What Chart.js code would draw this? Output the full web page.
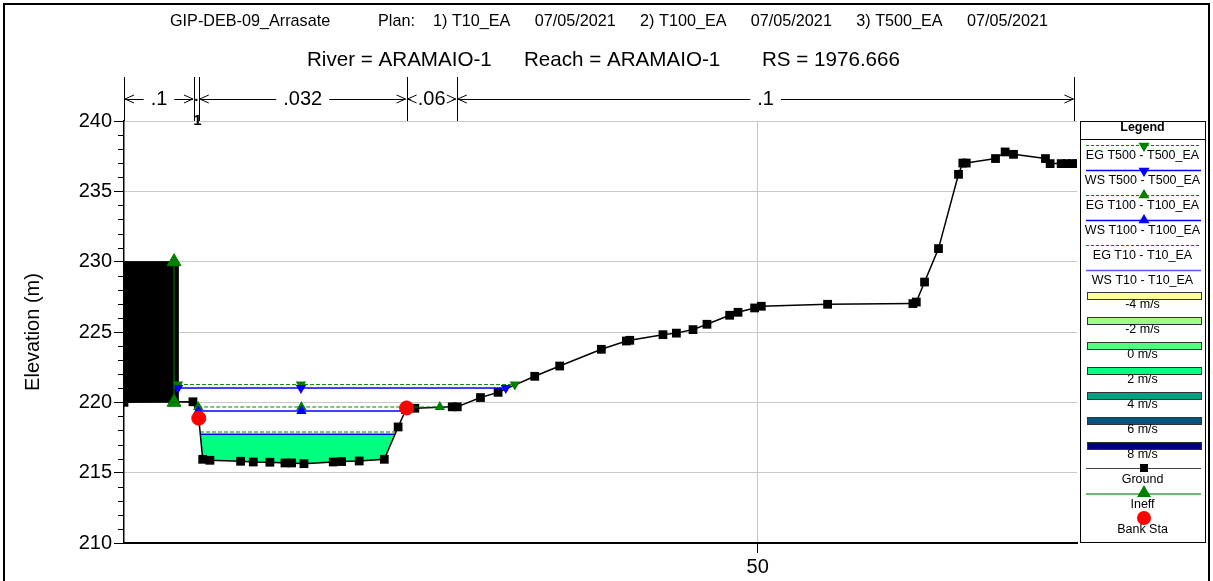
<!DOCTYPE html>
<html>
<head>
<meta charset="utf-8">
<script src="https://cdn.jsdelivr.net/npm/chart.js@4.4.1/dist/chart.umd.min.js"></script>
<style>
  html, body { margin: 0; padding: 0; background: #fff; }
  #wrap { width: 1213px; height: 581px; }
</style>
</head>
<body>
<div id="wrap"><canvas id="xs" width="1213" height="581"></canvas></div>
<script>
// ground profile (station, elevation)
const groundX = [0, 5.44, 5.9, 6.21, 6.78, 9.20, 10.20, 11.51, 12.70, 13.23, 14.20, 16.51, 17.17, 18.56, 20.54,
  21.63, 22.30, 22.95, 25.9, 26.3, 28.13, 29.52, 32.41, 34.38, 37.67, 39.64, 39.91, 42.53, 43.59, 44.90,
  46.00, 47.79, 48.45, 49.76, 50.29, 55.52, 62.25, 62.52, 63.17, 64.27, 65.85, 66.19, 66.46, 68.77,
  69.53, 70.19, 72.71, 73.08, 73.95, 74.39, 74.81, 75.2];
const groundY = [220.0, 220.04, 218.87, 215.95, 215.88, 215.81, 215.76, 215.74, 215.69, 215.69, 215.64, 215.76, 215.79, 215.83, 215.95,
  218.25, 219.60, 219.58, 219.68, 219.68, 220.34, 220.71, 221.85, 222.58, 223.77, 224.36, 224.41, 224.81, 224.92, 225.17,
  225.55, 226.19, 226.40, 226.71, 226.83, 226.97, 227.02, 227.13, 228.55, 230.93, 236.21, 237.01, 237.01, 237.33,
  237.80, 237.63, 237.33, 236.97, 236.97, 236.97, 236.97, 236.97];

const bankX = [5.9, 22.3];
const bankY = [218.87, 219.60];

const ineffX = [3.95, 3.95];
const ineffY = [220, 230];

const blockX = [0, 0, 4.26, 4.26];
const blockY = [220, 230, 230, 220];

// water surface / energy grade lines: [left, marker, right] stations
const wsT500X = [4.26, 13.96, 30.13], wsT500Y = 221.02;
const egT500X = [4.26, 13.96, 30.84], egT500Y = 221.26;
const wsT100X = [5.86, 14.0, 22.24], wsT100Y = 219.38;
const egT100X = [5.86, 14.0, 24.92], egT100Y = 219.67;
const wsT10X = [6.02, 21.38], wsT10Y = 217.73;
const egT10X = [6.0, 21.45], egT10Y = 217.89;

// Manning's n regions
const nStations = [0, 5.52, 5.9, 22.3, 26.26, 75.0];
const nValues = ['.1', '.1', '.032', '.06', '.1'];

const yTicks = [210, 215, 220, 225, 230, 235, 240];
const xTicks = [50];

const FONT = "'Liberation Sans', Arial, sans-serif";

const pts = (xs, ys) => xs.map((x, i) => ({ x, y: Array.isArray(ys) ? ys[i] : ys }));

// water polygon under WS T10, bounded by the ground
function waterShape() {
  const out = [{ x: wsT10X[0], y: wsT10Y }, { x: wsT10X[1], y: wsT10Y }];
  for (let i = groundX.length - 1; i >= 0; i--) {
    if (groundX[i] > wsT10X[0] && groundX[i] < wsT10X[1] && groundY[i] < wsT10Y) {
      out.push({ x: groundX[i], y: groundY[i] });
    }
  }
  return out;
}

const legendPlugin = {
  id: 'hecras',
  beforeDraw(chart) {
    const c = chart.ctx;
    c.save();
    c.fillStyle = '#fff';
    c.fillRect(0, 0, chart.width, chart.height);
    c.restore();
  },
  afterDraw(chart) {
    const c = chart.ctx;
    const xs = chart.scales.x, ys = chart.scales.y;
    const area = chart.chartArea;
    c.save();

    // outer frame
    c.strokeStyle = '#000';
    c.lineWidth = 2;
    c.beginPath();
    c.moveTo(4, 590); c.lineTo(4, 4); c.lineTo(1209, 4); c.lineTo(1209, 590);
    c.stroke();

    // titles
    c.fillStyle = '#000';
    c.textBaseline = 'middle';
    c.textAlign = 'left';
    c.font = '16.2px ' + FONT;
    c.fillText('GIP-DEB-09_Arrasate', 170, 22);
    c.fillText('Plan:', 378, 22);
    const plan = ['1) T10_EA', '07/05/2021', '2) T100_EA', '07/05/2021', '3) T500_EA', '07/05/2021'];
    const sum = plan.reduce((s, t) => s + c.measureText(t).width, 0);
    const gap = (1048 - 433 - sum) / (plan.length - 1);
    let px0 = 433;
    plan.forEach(t => { c.fillText(t, px0, 22); px0 += c.measureText(t).width + gap; });
    c.font = '20.6px ' + FONT;
    [['River = ARAMAIO-1', 307], ['Reach = ARAMAIO-1', 524], ['RS = 1976.666', 762]]
      .forEach(p => c.fillText(p[0], p[1], 60));
    c.textAlign = 'center';

    // y title
    c.save();
    c.translate(33, 332);
    c.rotate(-Math.PI / 2);
    c.font = '20px ' + FONT;
    c.fillText('Elevation (m)', 0, 0);
    c.restore();

    // minor y ticks
    c.lineWidth = 1;
    c.strokeStyle = '#000';
    for (let v = 211; v < 240; v++) {
      if (v % 5 === 0) continue;
      const py = Math.round(ys.getPixelForValue(v)) + 0.5;
      c.beginPath(); c.moveTo(area.left - 6, py); c.lineTo(area.left, py); c.stroke();
    }

    // Manning's n band
    const yb = 99, yTop = 77;
    c.lineWidth = 1;
    nStations.forEach(s => {
      const px = Math.round(xs.getPixelForValue(s)) + 0.5;
      c.beginPath(); c.moveTo(px, yTop); c.lineTo(px, area.top); c.stroke();
    });
    c.font = '20px ' + FONT;
    const arrow = (x, dir) => {
      c.beginPath();
      c.moveTo(x + 9 * dir, yb - 4); c.lineTo(x, yb); c.lineTo(x + 9 * dir, yb + 4);
      c.stroke();
    };
    for (let i = 0; i < nValues.length; i++) {
      const a = xs.getPixelForValue(nStations[i]) + 1;
      const b = xs.getPixelForValue(nStations[i + 1]) - 1;
      const lab = nValues[i];
      const w = c.measureText(lab).width;
      if (b - a < w) {
        c.font = 'bold 15px ' + FONT;
        lab.split('').forEach((ch, k) => c.fillText(ch, (a + b) / 2 + k, yb - 2 + k * 24));
        c.font = '20px ' + FONT;
        continue;
      }
      const mid = (a + b) / 2;
      c.fillText(lab, mid, yb);
      if (mid - w / 2 - 7 > a + 2) {
        c.beginPath(); c.moveTo(a, yb + 0.5); c.lineTo(mid - w / 2 - 7, yb + 0.5); c.stroke();
        c.beginPath(); c.moveTo(mid + w / 2 + 7, yb + 0.5); c.lineTo(b, yb + 0.5); c.stroke();
      }
      arrow(a, 1);
      arrow(b, -1);
    }

    // legend box
    const L = { x0: 1080, x1: 1205, y0: 121, y1: 542 };
    const cx = (L.x0 + L.x1) / 2;
    c.lineWidth = 1;
    c.strokeStyle = '#000';
    c.strokeRect(L.x0 + 0.5, L.y0 + 0.5, L.x1 - L.x0, L.y1 - L.y0);
    c.beginPath(); c.moveTo(L.x0, 139.5); c.lineTo(L.x1, 139.5); c.stroke();
    c.font = 'bold 12.5px ' + FONT;
    c.fillText('Legend', cx, 128);
    c.font = '12.5px ' + FONT;

    const tri = (x, y, up, col, s) => {
      c.fillStyle = col;
      c.beginPath();
      if (up) { c.moveTo(x, y - s); c.lineTo(x + s, y + s * 0.7); c.lineTo(x - s, y + s * 0.7); }
      else { c.moveTo(x, y + s); c.lineTo(x + s, y - s * 0.7); c.lineTo(x - s, y - s * 0.7); }
      c.closePath(); c.fill();
    };
    const lineRows = [
      ['EG T500 - T500_EA', 'eg', 'down'],
      ['WS T500 - T500_EA', 'ws', 'down'],
      ['EG T100 - T100_EA', 'eg', 'up'],
      ['WS T100 - T100_EA', 'ws', 'up'],
      ['EG T10 - T10_EA', 'eg', null],
      ['WS T10 - T10_EA', 'ws', null]
    ];
    lineRows.forEach((r, i) => {
      const ly = 145.5 + 25 * i;
      c.beginPath();
      if (r[1] === 'eg') { c.strokeStyle = '#008000'; c.setLineDash([3, 2]); }
      else { c.strokeStyle = i === 5 ? '#5555ff' : '#0000ff'; c.setLineDash([]); c.lineWidth = 1.5; }
      c.moveTo(1086, ly); c.lineTo(1201, ly); c.stroke();
      c.setLineDash([]); c.lineWidth = 1;
      const col = r[1] === 'eg' ? '#008000' : '#0000ff';
      if (r[2] === 'down') tri(1144, ly + 1, false, col, 5.5);
      if (r[2] === 'up') tri(1144, ly - 1, true, col, 5.5);
      c.fillStyle = '#000';
      c.fillText(r[0], cx, ly + 10.5);
    });

    const velRows = [
      ['-4 m/s', '#ffff99'], ['-2 m/s', '#a0ff80'], ['0 m/s', '#50ff80'], ['2 m/s', '#00ff80'],
      ['4 m/s', '#00a080'], ['6 m/s', '#005580'], ['8 m/s', '#000080']
    ];
    velRows.forEach((r, k) => {
      const ry = 292 + 25 * k;
      c.fillStyle = r[1];
      c.fillRect(1087, ry, 114, 7);
      c.strokeStyle = '#333';
      c.strokeRect(1087.5, ry + 0.5, 114, 7);
      c.fillStyle = '#000';
      c.fillText(r[0], cx, ry + 13);
    });

    // ground
    c.strokeStyle = '#404040';
    c.beginPath(); c.moveTo(1086, 468.5); c.lineTo(1201, 468.5); c.stroke();
    c.fillStyle = '#000';
    c.fillRect(1140, 464, 8, 8);
    c.fillText('Ground', cx, 480);
    // ineff
    c.strokeStyle = '#40a040';
    c.lineWidth = 1.5;
    c.beginPath(); c.moveTo(1086, 494); c.lineTo(1201, 494); c.stroke();
    tri(1144, 492, true, '#008000', 7);
    c.fillStyle = '#000';
    c.fillText('Ineff', cx, 505);
    // bank
    c.fillStyle = '#ff0000';
    c.beginPath(); c.arc(1144, 518, 7, 0, Math.PI * 2); c.fill();
    c.fillStyle = '#000';
    c.fillText('Bank Sta', cx, 530);

    c.restore();
  }
};

new Chart(document.getElementById('xs'), {
  type: 'scatter',
  data: {
    datasets: [
      { label: 'Bank Sta', data: pts(bankX, bankY), pointStyle: 'circle', pointRadius: 7,
        backgroundColor: '#ff0000', borderColor: '#ff0000', showLine: false, order: 0 },
      { label: 'Ineff', data: pts(ineffX, ineffY), pointStyle: 'triangle', pointRadius: 8,
        backgroundColor: '#008000', borderColor: '#008000', borderWidth: 1, showLine: true, order: 1 },
      { label: 'WS T100', data: pts(wsT100X, wsT100Y), pointStyle: 'triangle', pointRadius: 6,
        backgroundColor: '#0000ff', borderColor: '#0000ff', borderWidth: 1.5, pointBorderWidth: 0, showLine: true, order: 2 },
      { label: 'EG T100', data: pts(egT100X, egT100Y), pointStyle: 'triangle', pointRadius: 6,
        backgroundColor: '#008000', borderColor: '#008000', borderWidth: 1, borderDash: [4, 2], pointBorderWidth: 0, showLine: true, order: 3 },
      { label: 'WS T500', data: pts(wsT500X, wsT500Y), pointStyle: 'triangle', rotation: 180, pointRadius: 6,
        backgroundColor: '#0000ff', borderColor: '#0000ff', borderWidth: 1.5, pointBorderWidth: 0, showLine: true, order: 4 },
      { label: 'EG T500', data: pts(egT500X, egT500Y), pointStyle: 'triangle', rotation: 180, pointRadius: 6,
        backgroundColor: '#008000', borderColor: '#008000', borderWidth: 1, borderDash: [4, 2], pointBorderWidth: 0, showLine: true, order: 5 },
      { label: 'Ground', data: pts(groundX, groundY), pointStyle: 'rect', pointRadius: 6.2,
        backgroundColor: '#000', borderColor: '#000', borderWidth: 1.5, pointBorderWidth: 0, showLine: true, order: 6 },
      { label: 'WS T10', data: pts(wsT10X, wsT10Y), pointRadius: 0,
        borderColor: '#0000ff', borderWidth: 1.5, showLine: true, order: 7 },
      { label: 'EG T10', data: pts(egT10X, egT10Y), pointRadius: 0,
        borderColor: '#008000', borderWidth: 1, borderDash: [4, 2], showLine: true, order: 8 },
      { label: 'water', data: waterShape(), pointRadius: 0, showLine: true, fill: 'shape',
        backgroundColor: '#00ff80', borderColor: '#00ff80', borderWidth: 0, order: 9 },
      { label: 'block', data: pts(blockX, blockY), pointRadius: 0, showLine: true, fill: 'shape',
        backgroundColor: '#000', borderColor: '#000', borderWidth: 1, order: 10 }
    ]
  },
  options: {
    responsive: false,
    animation: false,
    devicePixelRatio: 1,
    layout: { padding: { top: 121, right: 136, left: 0, bottom: 0 } },
    plugins: { legend: { display: false }, tooltip: { enabled: false } },
    elements: { line: { tension: 0 } },
    scales: {
      x: {
        type: 'linear', min: 0, max: 75.2,
        afterBuildTicks: s => { s.ticks = xTicks.map(v => ({ value: v })); },
        afterFit: s => { s.height = 38; },
        grid: { color: '#c8c8c8', tickColor: '#000', tickLength: 10 },
        border: { color: '#000', width: 2 },
        ticks: { color: '#000', font: { size: 20, family: FONT }, padding: 2, maxRotation: 0 }
      },
      y: {
        type: 'linear', min: 210, max: 240,
        afterBuildTicks: s => { s.ticks = yTicks.map(v => ({ value: v })); },
        afterFit: s => { s.width = 124; },
        grid: { color: '#c8c8c8', tickColor: '#000', tickLength: 10 },
        border: { color: '#000', width: 1.5 },
        ticks: { color: '#000', font: { size: 20, family: FONT }, padding: 2 }
      }
    }
  },
  plugins: [legendPlugin]
});
</script>
</body>
</html>
